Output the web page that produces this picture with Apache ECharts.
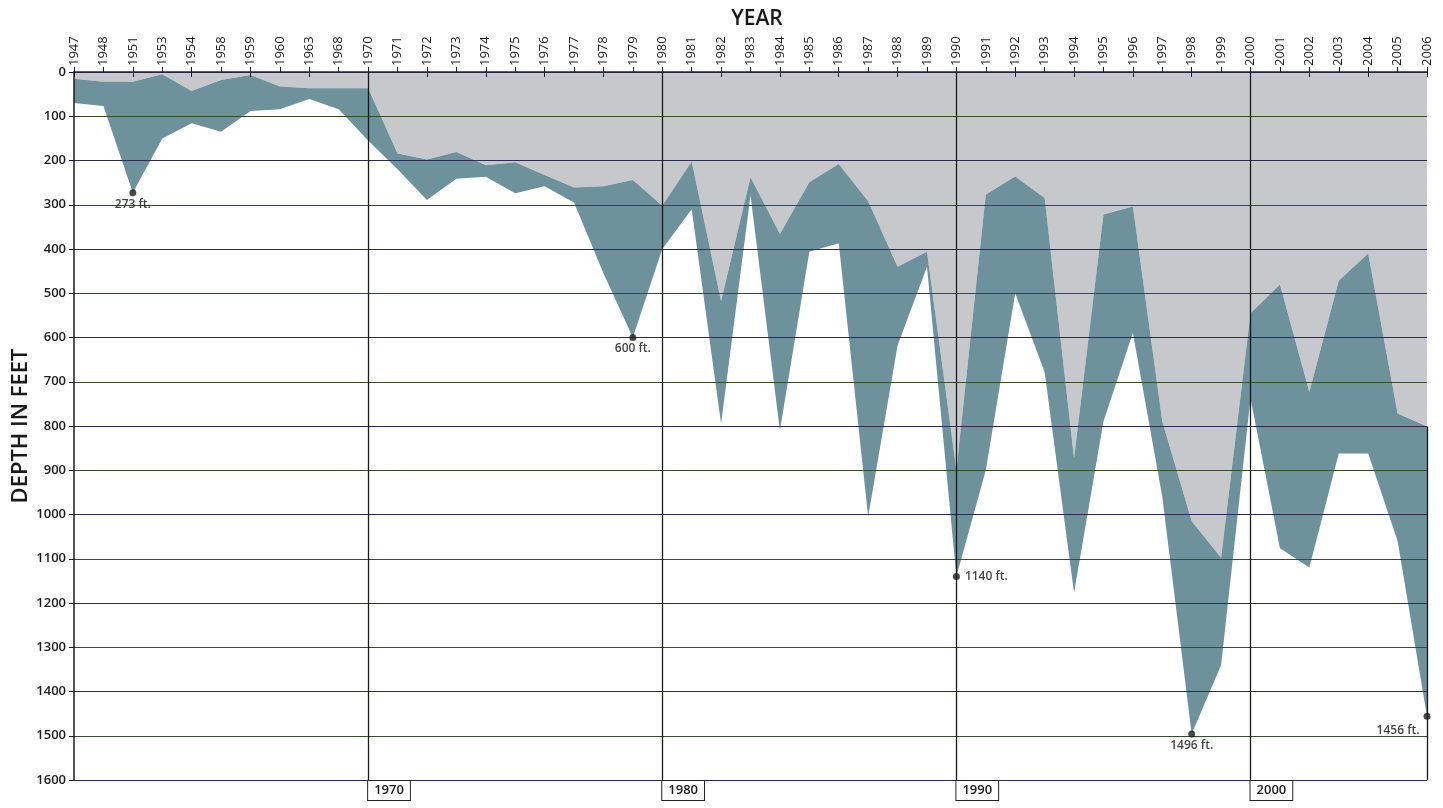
<!DOCTYPE html>
<html>
<head>
<meta charset="utf-8">
<script src="https://cdn.jsdelivr.net/npm/echarts@6/dist/echarts.min.js"></script>
<style>
html,body{margin:0;padding:0;background:#fff;}
#c{width:1443px;height:808px;}
</style>
</head>
<body>
<div id="c"></div>
<script>
const years = ['1947','1948','1951','1953','1954','1958','1959','1960','1963','1968',
  '1970','1971','1972','1973','1974','1975','1976','1977','1978','1979',
  '1980','1981','1982','1983','1984','1985','1986','1987','1988','1989',
  '1990','1991','1992','1993','1994','1995','1996','1997','1998','1999',
  '2000','2001','2002','2003','2004','2005','2006'];
// shallowest depth (upper edge of band), feet
const shallow = [15,22,22,5,43,18,7,33,37,37,
  37,184,198,181,211,204,233,261,258,244,
  302,202,518,238,366,249,208,292,440,406,
  900,277,236,285,873,322,304,790,1015,1098,
  545,480,723,472,410,772,801];
// deepest depth (lower edge of band), feet
const deep = [70,77,273,150,116,135,88,84,61,84,
  155,220,289,241,237,274,258,295,455,600,
  400,310,795,279,810,406,387,1005,618,440,
  1140,900,500,678,1177,790,590,960,1496,1340,
  738,1076,1120,862,862,1060,1456];
const yTicks = [0,100,200,300,400,500,600,700,800,900,1000,1100,1200,1300,1400,1500,1600];
const decades = ['1970','1980','1990','2000'];
const labeled = ['1951','1979','1990','1998','2006'];

const FONT = '"Open Sans", "Noto Sans", sans-serif';
const band = deep.map((d, i) => d - shallow[i]);
const ptData = labeled.map(y => {
  const i = years.indexOf(y);
  const o = {value: [y, deep[i]]};
  if (y === '1990') o.label = {position: 'right', distance: 5};
  if (y === '2006') o.label = {position: 'left', distance: 4, offset: [0, 14]};
  return o;
});

const chart = echarts.init(document.getElementById('c'), null, {renderer: 'canvas'});
chart.setOption({
  backgroundColor: '#ffffff',
  animation: false,
  title: {
    text: 'YEAR', left: 752, top: 4, textAlign: 'center',
    textStyle: {fontFamily: FONT, fontSize: 21, fontWeight: 600, color: '#1a1a1a'}
  },
  grid: {left: 74, right: 16, top: 72, bottom: 28, containLabel: false, outerBoundsMode: 'none'},
  xAxis: [{
    type: 'category', data: years, position: 'top', boundaryGap: false, z: 6,
    axisLine: {lineStyle: {color: '#2a2040', width: 1.5}},
    axisTick: {show: true, length: 5, alignWithLabel: true, lineStyle: {color: '#1a1a1a'}},
    axisLabel: {rotate: 90, interval: 0, margin: 6, fontFamily: FONT, fontSize: 13, color: '#1a1a1a'},
    splitLine: {show: false}
  }, {
    type: 'category', data: years, position: 'bottom', boundaryGap: false, z: 6,
    axisLine: {show: false}, axisTick: {show: false},
    axisLabel: {
      interval: (idx, val) => decades.indexOf(val) >= 0,
      align: 'left', margin: 1,
      fontFamily: FONT, fontSize: 13, fontWeight: 600, color: '#1a1a1a',
      borderColor: '#222', borderWidth: 1, padding: [3, 6, 3, 6], backgroundColor: '#fff'
    }
  }, {
    type: 'category', data: years, position: 'top', boundaryGap: false, z: 6,
    axisLine: {show: false},
    axisTick: {show: true, inside: true, length: 5, lineStyle: {color: '#1a1a1a'}},
    axisLabel: {show: false}
  }],
  yAxis: {
    type: 'value', inverse: true, min: 0, max: 1600, interval: 100, z: 4,
    name: 'DEPTH IN FEET', nameLocation: 'middle', nameRotate: 90, nameGap: 42,
    nameMoveOverlap: false,
    nameTextStyle: {fontFamily: FONT, fontSize: 22, fontWeight: 600, color: '#1a1a1a'},
    axisLine: {show: true, lineStyle: {color: '#1a1a1a', width: 1.5}},
    axisTick: {show: true, length: 5, lineStyle: {color: '#1a1a1a'}},
    axisLabel: {
      fontFamily: FONT, fontSize: 13, fontWeight: 600, color: '#1a1a1a', margin: 8,
      formatter: v => (yTicks.indexOf(v) >= 0 ? String(v) : '')
    },
    splitLine: {show: true, lineStyle: {color: ['#2e2a55', '#34502a'], width: 1.2}}
  },
  series: [{
    name: 'shallow', type: 'line', stack: 'd', data: shallow,
    symbol: 'none', lineStyle: {width: 0}, z: 1,
    areaStyle: {color: '#c7c8cc', opacity: 1}
  }, {
    name: 'band', type: 'line', stack: 'd', data: band,
    symbol: 'none', lineStyle: {width: 0}, z: 2,
    areaStyle: {color: '#6d929b', opacity: 1},
    markLine: {
      silent: true, symbol: ['none', 'none'], label: {show: false}, z: 5,
      lineStyle: {color: '#1a1a1a', width: 1.3, type: 'solid'},
      data: decades.map(d => ({xAxis: d})).concat([[
        {coord: ['2006', shallow[shallow.length - 1]]},
        {coord: ['2006', 1600]}
      ]])
    }
  }, {
    name: 'pts', type: 'scatter', data: ptData, symbolSize: 7, z: 8,
    itemStyle: {color: '#1a1a1a'},
    label: {
      show: true, fontFamily: FONT, fontSize: 12, fontWeight: 600, color: '#111',
      formatter: p => p.value[1] + ' ft.', position: 'bottom', distance: 2
    }
  }]
});
</script>
</body>
</html>
